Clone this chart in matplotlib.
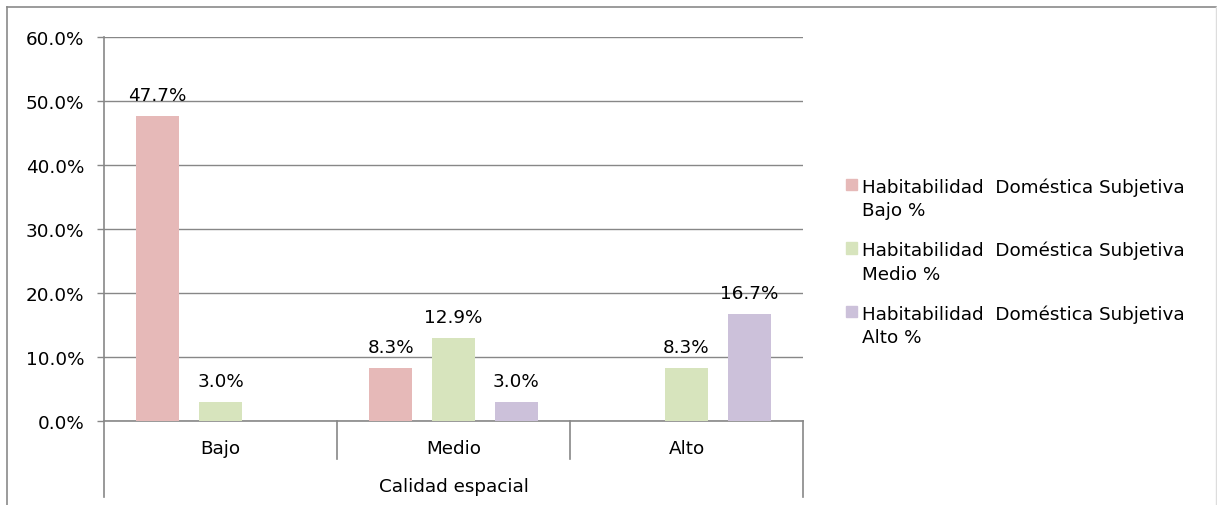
import matplotlib
matplotlib.use("Agg")
import matplotlib.pyplot as plt
from matplotlib.lines import Line2D
from matplotlib.patches import Rectangle
import matplotlib.transforms as mtransforms
import numpy as np

plt.rcParams['font.family'] = ['DejaVu Sans']

categorias = ["Bajo", "Medio", "Alto"]
series = [("Habitabilidad  Doméstica Subjetiva", "Bajo %"),
          ("Habitabilidad  Doméstica Subjetiva", "Medio %"),
          ("Habitabilidad  Doméstica Subjetiva", "Alto %")]
bajo = [47.7, 8.3, 0.0]
medio = [3.0, 12.9, 8.3]
alto = [0.0, 3.0, 16.7]
colores = ["#E6B9B8", "#D7E4BD", "#CCC1DA"]
eje_titulo = "Calidad espacial"
yticks = [0, 10, 20, 30, 40, 50, 60]

W, H = 1217, 506
FS = 13.2
fig = plt.figure(figsize=(W / 100, H / 100), dpi=100)
ax = fig.add_axes([104 / W, 84 / H, 699 / W, 384 / H])
AXH = 384.0

gris = "#878787"
x = np.arange(len(categorias))
offs = [-0.27, 0.0, 0.27]
for vals, off, col in zip([bajo, medio, alto], offs, colores):
    bars = ax.bar(x + off, vals, width=0.185, color=col, zorder=3)
    for b, v in zip(bars, vals):
        if v > 0:
            ax.annotate(f"{v:.1f}%", (b.get_x() + b.get_width() / 2, v),
                        xytext=(0, 16), textcoords="offset pixels",
                        ha="center", va="baseline", fontsize=FS)

ax.set_xlim(-0.5, 2.5)
ax.set_ylim(0, 60)
ax.set_yticks(yticks)
ax.set_yticklabels([f"{t:.1f}%" for t in yticks], fontsize=FS)
ax.tick_params(axis="y", length=5, color=gris, width=1, pad=9)
ax.set_xticks([])
ax.grid(axis="y", color=gris, linewidth=1, zorder=0)
for s in ["top", "right"]:
    ax.spines[s].set_visible(False)
for s in ["left", "bottom"]:
    ax.spines[s].set_color(gris)
    ax.spines[s].set_linewidth(1.2)

trans = mtransforms.blended_transform_factory(ax.transData, ax.transAxes)
for xs in [0.5, 1.5]:
    ax.add_line(Line2D([xs, xs], [0, -38 / AXH], transform=trans, color=gris,
                       lw=1.2, clip_on=False))
for xs in [-0.5, 2.5]:
    ax.add_line(Line2D([xs, xs], [0, -76 / AXH], transform=trans, color=gris,
                       lw=1.2, clip_on=False))
for i, c in enumerate(categorias):
    ax.text(i, -32 / AXH, c, transform=trans, ha="center", va="baseline",
            fontsize=FS)
ax.text(1.0, -70.5 / AXH, eje_titulo, transform=trans, ha="center",
        va="baseline", fontsize=FS)

# leyenda a mano (estilo Excel, cuadro alineado con la primera linea)
for i, ((l1, l2), col) in enumerate(zip(series, colores)):
    base = 193 + i * 63.5
    fig.patches.append(Rectangle((846 / W, 1 - (base - 2) / H), 11 / W, 11.5 / H,
                                 transform=fig.transFigure, color=col))
    fig.text(862 / W, 1 - base / H, l1, ha="left", va="baseline", fontsize=FS)
    fig.text(862 / W, 1 - (base + 23.5) / H, l2, ha="left", va="baseline",
             fontsize=FS)

# borde del area del grafico
fig.add_artist(Line2D([7 / W, 7 / W], [0, 1 - 8 / H], color="#8a8a8a", lw=1.2))
fig.add_artist(Line2D([7 / W, 1216 / W], [1 - 8 / H, 1 - 8 / H], color="#8a8a8a", lw=1.2))
fig.add_artist(Line2D([1216 / W, 1216 / W], [0, 1 - 8 / H], color="#dddddd", lw=1))

fig.savefig("out.png", dpi=100)
